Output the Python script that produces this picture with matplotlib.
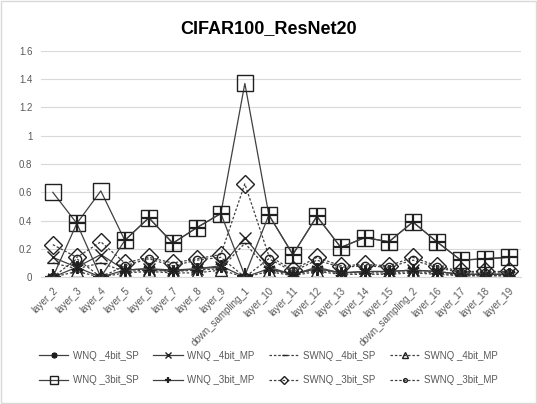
import matplotlib
matplotlib.use('Agg')
import matplotlib.pyplot as plt
import numpy as np

plt.rcParams['font.family'] = ['Liberation Sans', 'DejaVu Sans']

# 数据
layers = ['layer_2', 'layer_3', 'layer_4', 'layer_5', 'layer_6', 'layer_7', 'layer_8', 'layer_9',
          'down_sampling_1', 'layer_10', 'layer_11', 'layer_12', 'layer_13', 'layer_14', 'layer_15',
          'down_sampling_2', 'layer_16', 'layer_17', 'layer_18', 'layer_19']

wnq_4bit_sp = [0.0, 0.07, 0.0, 0.05, 0.06, 0.04, 0.06, 0.08, 0.0, 0.06, 0.02, 0.06, 0.03, 0.04, 0.04, 0.05, 0.04, 0.02, 0.02, 0.02]
wnq_4bit_mp = [0.14, 0.07, 0.16, 0.05, 0.06, 0.05, 0.06, 0.07, 0.28, 0.07, 0.02, 0.07, 0.03, 0.04, 0.04, 0.05, 0.04, 0.02, 0.02, 0.02]
swnq_4bit_sp = [0.10, 0.06, 0.10, 0.04, 0.05, 0.04, 0.05, 0.06, 0.24, 0.05, 0.02, 0.05, 0.03, 0.03, 0.03, 0.04, 0.03, 0.01, 0.01, 0.01]
swnq_4bit_mp = [0.0, 0.04, 0.0, 0.03, 0.04, 0.03, 0.03, 0.05, 0.0, 0.04, 0.01, 0.04, 0.02, 0.02, 0.02, 0.03, 0.02, 0.01, 0.01, 0.01]
wnq_3bit_sp = [0.60, 0.38, 0.61, 0.26, 0.42, 0.24, 0.35, 0.45, 1.37, 0.44, 0.16, 0.43, 0.21, 0.28, 0.25, 0.39, 0.25, 0.12, 0.13, 0.14]
wnq_3bit_mp = [0.0, 0.38, 0.0, 0.26, 0.42, 0.24, 0.35, 0.45, 0.01, 0.44, 0.16, 0.43, 0.21, 0.28, 0.25, 0.39, 0.25, 0.12, 0.13, 0.14]
swnq_3bit_sp = [0.23, 0.14, 0.25, 0.10, 0.14, 0.10, 0.13, 0.16, 0.66, 0.15, 0.05, 0.14, 0.08, 0.09, 0.08, 0.14, 0.08, 0.04, 0.04, 0.04]
swnq_3bit_mp = [0.0, 0.13, 0.0, 0.08, 0.13, 0.08, 0.12, 0.14, 0.0, 0.13, 0.04, 0.12, 0.07, 0.08, 0.07, 0.12, 0.07, 0.03, 0.03, 0.03]

fig = plt.figure(figsize=(5.37, 4.04), dpi=100)
fig.patches.append(plt.Rectangle((0.002, 0.002), 0.996, 0.996, transform=fig.transFigure,
                                 fill=False, edgecolor='#d9d9d9', linewidth=1))
ax = fig.add_axes([0.076, 0.314, 0.894, 0.56])
x = np.arange(len(layers))

# 系列样式: (数据, 标签, 线型, 标记, 标记大小)
series = [
    (wnq_4bit_sp, 'WNQ _4bit_SP', '-', (6, 2, 0), 9),
    (wnq_4bit_mp, 'WNQ _4bit_MP', '-', 'x', 9),
    (swnq_4bit_sp, 'SWNQ _4bit_SP', '--', '_', 8),
    (swnq_4bit_mp, 'SWNQ _4bit_MP', '--', '^', 9),
    (wnq_3bit_sp, 'WNQ _3bit_SP', '-', 's', 12),
    (wnq_3bit_mp, 'WNQ _3bit_MP', '-', '+', 11),
    (swnq_3bit_sp, 'SWNQ _3bit_SP', '--', 'D', 9),
    (swnq_3bit_mp, 'SWNQ _3bit_MP', '--', 'o', 6),
]
handles = []
for y, lab, ls, mk, ms in series:
    h, = ax.plot(x, y, linestyle=ls, color='#404040', linewidth=0.9, marker=mk, markersize=ms,
                 markerfacecolor='none', markeredgecolor='#202020',
                 markeredgewidth=1.0 if mk not in ('+', (6, 2, 0)) else 1.6,
                 label=lab, dashes=(2, 1.5) if ls == '--' else (None, None))
    handles.append(h)

ax.set_xlim(-0.5, len(layers) - 0.5)
ax.set_ylim(0, 1.6)
ax.set_yticks(np.arange(0, 1.61, 0.2))
ax.set_yticklabels(['0', '0.2', '0.4', '0.6', '0.8', '1', '1.2', '1.4', '1.6'])
ax.set_xticks(x)
ax.set_xticklabels(layers, rotation=45, ha='right', rotation_mode='anchor')
ax.tick_params(axis='both', labelsize=7, colors='#595959', length=0, pad=6)
ax.grid(axis='y', color='#d9d9d9', linewidth=0.8)
ax.set_axisbelow(True)
for s in ['left', 'right', 'top']:
    ax.spines[s].set_visible(False)
ax.spines['bottom'].set_color('#d9d9d9')

fig.text(0.5, 0.93, 'CIFAR100_ResNet20', ha='center', va='center', fontsize=13, fontweight='bold')

# 图例按行排列
order = [0, 4, 1, 5, 2, 6, 3, 7]
fig.legend([handles[i] for i in order], [handles[i].get_label() for i in order],
           loc='lower center', bbox_to_anchor=(0.5, 0.025), ncol=4, frameon=False, fontsize=7,
           labelcolor='#595959', handlelength=3, columnspacing=1.5, markerscale=0.45,
           labelspacing=1.5, handletextpad=0.5)

plt.savefig('out.png', dpi=100)
